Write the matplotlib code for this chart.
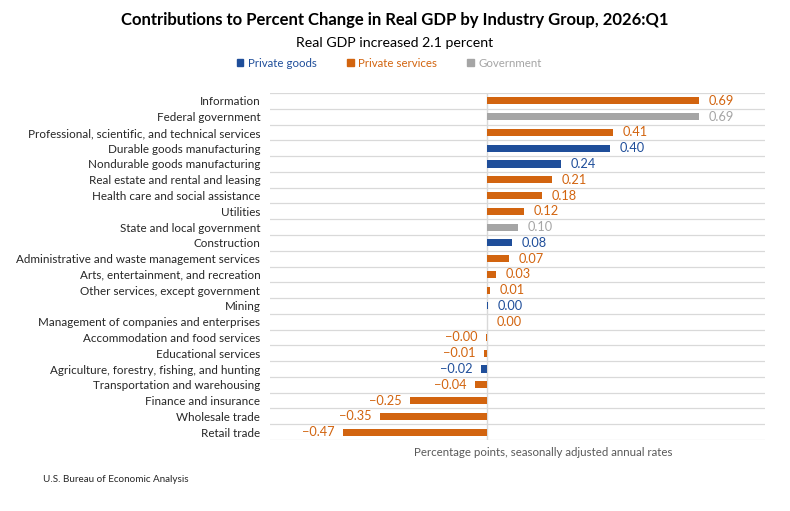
import matplotlib
matplotlib.use("Agg")
import matplotlib.pyplot as plt
from matplotlib.patches import Patch

plt.rcParams['font.family'] = ['Lato', 'DejaVu Sans']

categories = [
    "Information", "Federal government", "Professional, scientific, and technical services",
    "Durable goods manufacturing", "Nondurable goods manufacturing", "Real estate and rental and leasing",
    "Health care and social assistance", "Utilities", "State and local government", "Construction",
    "Administrative and waste management services", "Arts, entertainment, and recreation",
    "Other services, except government", "Mining", "Management of companies and enterprises",
    "Accommodation and food services", "Educational services", "Agriculture, forestry, fishing, and hunting",
    "Transportation and warehousing", "Finance and insurance", "Wholesale trade", "Retail trade",
]
values = [0.69, 0.69, 0.41, 0.40, 0.24, 0.21, 0.18, 0.12, 0.10, 0.08, 0.07, 0.03, 0.01,
          0.003, 0.0, -0.003, -0.01, -0.02, -0.04, -0.25, -0.35, -0.47]
groups = ["S", "G", "S", "P", "P", "S", "S", "S", "G", "P", "S", "S", "S",
          "P", "S", "S", "S", "P", "S", "S", "S", "S"]

group_names = {"P": "Private goods", "S": "Private services", "G": "Government"}
colors = {"P": "#1F4E9A", "S": "#D2640F", "G": "#A5A5A5"}

fig = plt.figure(figsize=(7.9, 5.11), dpi=100)
ax = fig.add_axes([270/790, 71/511, 495/790, 347/511])

n = len(categories)
ypos = list(range(n))
bar_colors = [colors[g] for g in groups]
ax.barh(ypos, values, height=0.45, color=bar_colors, zorder=3)

ax.set_ylim(n - 0.5, -0.5)
ax.set_xlim(-0.707, 0.905)

for y in [i - 0.5 for i in range(n + 1)]:
    ax.axhline(y, color="#D9D9D9", lw=0.9, zorder=1)
ax.axvline(0, color="#D9D9D9", lw=1.0, zorder=2)

for i, (v, g) in enumerate(zip(values, groups)):
    lab = f"{abs(v):.2f}"
    if v < 0:
        lab = "\u2212" + lab
        ax.annotate(lab, (v, i), xytext=(-6, 0), textcoords="offset points",
                    ha="right", va="center", fontsize=9.2, color=colors[g])
    else:
        ax.annotate(lab, (v, i), xytext=(7, 0), textcoords="offset points",
                    ha="left", va="center", fontsize=9.2, color=colors[g])

ax.set_yticks(ypos)
ax.set_yticklabels(categories, fontsize=8.4, color="#262626")
ax.tick_params(axis="y", length=0, pad=7)
ax.set_xticks([])
for s in ax.spines.values():
    s.set_visible(False)

fig.text(0.5, 1 - 20/511, "Contributions to Percent Change in Real GDP by Industry Group, 2026:Q1",
         ha="center", va="center", fontsize=12, fontweight="bold", color="#000000")
fig.text(0.5, 1 - 43/511, "Real GDP increased 2.1 percent",
         ha="center", va="center", fontsize=10.2, color="#000000")

handles = [Patch(color=colors[k]) for k in ["P", "S", "G"]]
leg = fig.legend(handles, [group_names[k] for k in ["P", "S", "G"]],
                 loc="center", bbox_to_anchor=(0.493, 1 - 63/511), ncol=3, frameon=False,
                 fontsize=8.3, handlelength=0.6, handleheight=0.6, handletextpad=0.4,
                 columnspacing=2.6)
for t, k in zip(leg.get_texts(), ["P", "S", "G"]):
    t.set_color(colors[k])

fig.text(543/790, 1 - 452/511, "Percentage points, seasonally adjusted annual rates",
         ha="center", va="center", fontsize=8.3, color="#595959")
fig.text(43/790, 1 - 479/511, "U.S. Bureau of Economic Analysis",
         ha="left", va="center", fontsize=7.1, color="#262626")

fig.savefig("out.png", dpi=100)
